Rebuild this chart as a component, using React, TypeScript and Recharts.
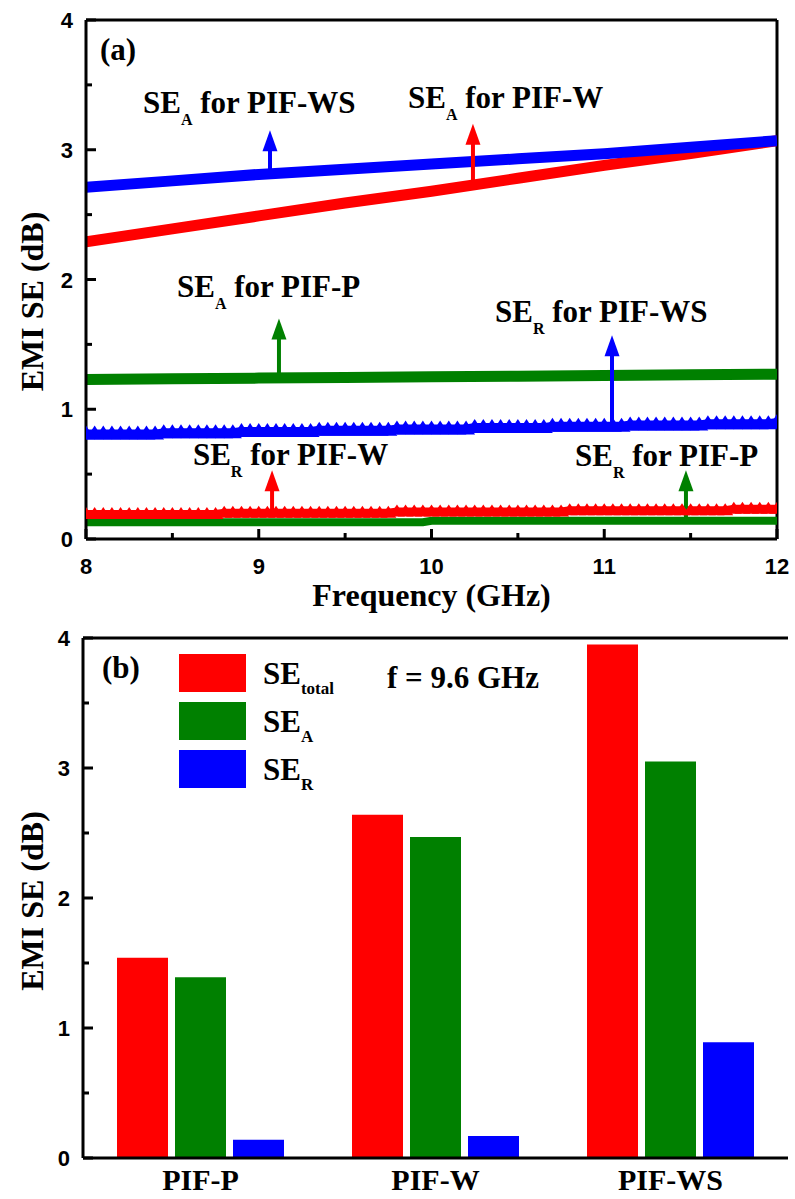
import React from "react";
import { LineChart, Line, BarChart, Bar, XAxis, YAxis, ReferenceLine, ReferenceDot, Legend } from "recharts";

const SERIF = "'Liberation Serif', 'Times New Roman', serif";
const SANS = "'Liberation Sans', Arial, sans-serif";
const RED = "#ff0000";
const GREEN = "#008000";
const BLUE = "#0000ff";

// (a) absorption part, read every 0.5 GHz
const freqA = [8, 8.5, 9, 9.5, 10, 10.5, 11, 11.5, 12];
const seA_P = [1.23, 1.235, 1.24, 1.245, 1.25, 1.255, 1.26, 1.265, 1.27];
const seA_W = [2.29, 2.39, 2.49, 2.59, 2.68, 2.78, 2.88, 2.97, 3.07];
const seA_WS = [2.71, 2.76, 2.81, 2.85, 2.89, 2.93, 2.97, 3.02, 3.07];

// (a) reflection part, dense markers every 0.05 GHz
const freqR = [
  8, 8.05, 8.1, 8.15, 8.2, 8.25, 8.3, 8.35, 8.4, 8.45,
  8.5, 8.55, 8.6, 8.65, 8.7, 8.75, 8.8, 8.85, 8.9, 8.95,
  9, 9.05, 9.1, 9.15, 9.2, 9.25, 9.3, 9.35, 9.4, 9.45,
  9.5, 9.55, 9.6, 9.65, 9.7, 9.75, 9.8, 9.85, 9.9, 9.95,
  10, 10.05, 10.1, 10.15, 10.2, 10.25, 10.3, 10.35, 10.4, 10.45,
  10.5, 10.55, 10.6, 10.65, 10.7, 10.75, 10.8, 10.85, 10.9, 10.95,
  11, 11.05, 11.1, 11.15, 11.2, 11.25, 11.3, 11.35, 11.4, 11.45,
  11.5, 11.55, 11.6, 11.65, 11.7, 11.75, 11.8, 11.85, 11.9, 11.95,
  12,
];
const seR_WS = [
  0.82, 0.82, 0.82, 0.82, 0.82, 0.82, 0.82, 0.82, 0.82, 0.83,
  0.83, 0.83, 0.83, 0.83, 0.83, 0.83, 0.83, 0.83, 0.84, 0.84,
  0.84, 0.84, 0.84, 0.84, 0.84, 0.84, 0.84, 0.85, 0.85, 0.85,
  0.85, 0.85, 0.85, 0.85, 0.85, 0.85, 0.86, 0.86, 0.86, 0.86,
  0.86, 0.86, 0.86, 0.86, 0.86, 0.87, 0.87, 0.87, 0.87, 0.87,
  0.87, 0.87, 0.87, 0.87, 0.88, 0.88, 0.88, 0.88, 0.88, 0.88,
  0.88, 0.88, 0.88, 0.89, 0.89, 0.89, 0.89, 0.89, 0.89, 0.89,
  0.89, 0.89, 0.9, 0.9, 0.9, 0.9, 0.9, 0.9, 0.9, 0.9,
  0.91,
];
const seR_W = [
  0.2, 0.2, 0.2, 0.2, 0.2, 0.2, 0.2, 0.2, 0.2, 0.2,
  0.2, 0.2, 0.2, 0.2, 0.2, 0.2, 0.21, 0.21, 0.21, 0.21,
  0.21, 0.21, 0.21, 0.21, 0.21, 0.21, 0.21, 0.21, 0.21, 0.21,
  0.21, 0.21, 0.21, 0.21, 0.21, 0.21, 0.22, 0.22, 0.22, 0.22,
  0.22, 0.22, 0.22, 0.22, 0.22, 0.22, 0.22, 0.22, 0.22, 0.22,
  0.22, 0.22, 0.22, 0.22, 0.22, 0.22, 0.23, 0.23, 0.23, 0.23,
  0.23, 0.23, 0.23, 0.23, 0.23, 0.23, 0.23, 0.23, 0.23, 0.23,
  0.23, 0.23, 0.23, 0.23, 0.23, 0.24, 0.24, 0.24, 0.24, 0.24,
  0.24,
];
const seR_P = [
  0.13, 0.13, 0.13, 0.13, 0.13, 0.13, 0.13, 0.13, 0.13, 0.13,
  0.13, 0.13, 0.13, 0.13, 0.13, 0.13, 0.13, 0.13, 0.13, 0.13,
  0.13, 0.13, 0.13, 0.13, 0.13, 0.13, 0.13, 0.13, 0.13, 0.13,
  0.13, 0.13, 0.13, 0.13, 0.13, 0.13, 0.13, 0.13, 0.13, 0.13,
  0.14, 0.14, 0.14, 0.14, 0.14, 0.14, 0.14, 0.14, 0.14, 0.14,
  0.14, 0.14, 0.14, 0.14, 0.14, 0.14, 0.14, 0.14, 0.14, 0.14,
  0.14, 0.14, 0.14, 0.14, 0.14, 0.14, 0.14, 0.14, 0.14, 0.14,
  0.14, 0.14, 0.14, 0.14, 0.14, 0.14, 0.14, 0.14, 0.14, 0.14,
  0.14,
];

// (b) values at f = 9.6 GHz
const samples = ["PIF-P", "PIF-W", "PIF-WS"];
const seTotal = [1.54, 2.64, 3.95];
const seAbs = [1.39, 2.47, 3.05];
const seRef = [0.14, 0.17, 0.89];
const legendOrder = ["total", "A", "R"];

const freqTicks = [8, 8.5, 9, 9.5, 10, 10.5, 11, 11.5, 12];
const seTicks = [0, 0.5, 1, 1.5, 2, 2.5, 3, 3.5, 4];

const rows = (xs: number[], vs: number[]) => xs.map((f, i) => ({ f, v: vs[i] }));
const barRows = samples.map((name, i) => ({ name, total: seTotal[i], A: seAbs[i], R: seRef[i] }));

const axisLine = { stroke: "#000", strokeWidth: 3 };

const YTick = (p: any) => {
  const { x, y, payload } = p;
  const major = Number.isInteger(payload.value);
  return (
    <g>
      <line x1={x} x2={x + (major ? 10 : 6)} y1={y} y2={y} stroke="#000" strokeWidth={3} />
      {major && (
        <text x={x - 13} y={y + 8} textAnchor="end" fontFamily={SANS} fontWeight="bold" fontSize={22} fill="#000">
          {payload.value}
        </text>
      )}
    </g>
  );
};

const XTick = (p: any) => {
  const { x, y, payload } = p;
  const major = Number.isInteger(payload.value);
  return (
    <g>
      <line x1={x} x2={x} y1={y} y2={y - (major ? 10 : 6)} stroke="#000" strokeWidth={3} />
      {major && (
        <text x={x} y={y + 35} textAnchor="middle" fontFamily={SANS} fontWeight="bold" fontSize={22} fill="#000">
          {payload.value}
        </text>
      )}
    </g>
  );
};

const SampleTick = (p: any) => (
  <text x={p.x} y={p.y + 32} textAnchor="middle" fontFamily={SERIF} fontWeight="bold" fontSize={30} fill="#000">
    {p.payload.value}
  </text>
);

const yTitle = (shift: number) => (p: any) => {
  const x = 43;
  const y = p.viewBox.y + p.viewBox.height / 2 + shift;
  return (
    <text x={x} y={y} transform={`rotate(-90 ${x} ${y})`} textAnchor="middle" fontFamily={SERIF} fontWeight="bold" fontSize={32} fill="#000">
      EMI SE (dB)
    </text>
  );
};

const triangleDot = (color: string, h: number, w: number) => (p: any) => {
  const { cx, cy, index } = p;
  if (cx == null || cy == null) return <g key={index} />;
  return <polygon key={index} points={`${cx},${cy - h / 2} ${cx - w / 2},${cy + h / 2} ${cx + w / 2},${cy + h / 2}`} fill={color} />;
};

const arrow = (color: string) => (p: any) => {
  const { x1, y1, x2, y2 } = p;
  return (
    <g>
      <line x1={x1} y1={y1} x2={x2} y2={y2 + 18} stroke={color} strokeWidth={4} />
      <polygon points={`${x2},${y2} ${x2 - 7.5},${y2 + 21} ${x2 + 7.5},${y2 + 21}`} fill={color} />
    </g>
  );
};

const note = (sub: string, sample: string) => (p: any) => (
  <text x={p.cx} y={p.cy} fontFamily={SERIF} fontWeight="bold" fontSize={31} fill="#000">
    SE<tspan fontSize={16} dy={12}>{sub}</tspan>
    <tspan dy={-12}>{"\u00a0for " + sample}</tspan>
  </text>
);

const panelTag = (tag: string) => (p: any) => (
  <text x={p.cx} y={p.cy} fontFamily={SERIF} fontWeight="bold" fontSize={31} fill="#000">{tag}</text>
);

function SweepChart() {
  return (
    <LineChart width={795} height={620} margin={{ top: 20, right: 18, bottom: 21, left: 0 }}>
      <XAxis
        type="number"
        dataKey="f"
        domain={[8, 12]}
        ticks={freqTicks}
        interval={0}
        allowDataOverflow
        height={60}
        axisLine={axisLine}
        tickLine={false}
        tickSize={0}
        tickMargin={0}
        tick={<XTick />}
        label={(p: any) => (
          <text x={p.viewBox.x + p.viewBox.width / 2} y={p.viewBox.y + 67} textAnchor="middle" fontFamily={SERIF} fontWeight="bold" fontSize={32} fill="#000">
            Frequency (GHz)
          </text>
        )}
      />
      <YAxis
        type="number"
        domain={[0, 4]}
        ticks={seTicks}
        interval={0}
        allowDataOverflow
        width={86}
        axisLine={axisLine}
        tickLine={false}
        tickSize={0}
        tickMargin={0}
        tick={<YTick />}
        label={yTitle(22)}
      />
      <ReferenceLine y={4} stroke="#000" strokeWidth={3} />
      <ReferenceLine x={12} stroke="#000" strokeWidth={3} />

      <Line data={rows(freqA, seA_P)} dataKey="v" stroke={GREEN} strokeWidth={11} dot={false} activeDot={false} isAnimationActive={false} />
      <Line data={rows(freqA, seA_W)} dataKey="v" stroke={RED} strokeWidth={11} dot={false} activeDot={false} isAnimationActive={false} />
      <Line data={rows(freqA, seA_WS)} dataKey="v" stroke={BLUE} strokeWidth={11} dot={false} activeDot={false} isAnimationActive={false} />
      <Line data={rows(freqR, seR_P)} dataKey="v" stroke={GREEN} strokeWidth={8} dot={false} activeDot={false} isAnimationActive={false} />
      <Line data={rows(freqR, seR_W)} dataKey="v" stroke={RED} strokeWidth={6} dot={triangleDot(RED, 12, 16)} activeDot={false} isAnimationActive={false} />
      <Line data={rows(freqR, seR_WS)} dataKey="v" stroke={BLUE} strokeWidth={6} dot={triangleDot(BLUE, 14, 18)} activeDot={false} isAnimationActive={false} />

      <ReferenceLine segment={[{ x: 9.065, y: 2.82 }, { x: 9.065, y: 3.15 }]} shape={arrow(BLUE)} />
      <ReferenceLine segment={[{ x: 10.24, y: 2.74 }, { x: 10.24, y: 3.2 }]} shape={arrow(RED)} />
      <ReferenceLine segment={[{ x: 9.117, y: 1.25 }, { x: 9.117, y: 1.7 }]} shape={arrow(GREEN)} />
      <ReferenceLine segment={[{ x: 11.045, y: 0.9 }, { x: 11.045, y: 1.57 }]} shape={arrow(BLUE)} />
      <ReferenceLine segment={[{ x: 9.077, y: 0.21 }, { x: 9.077, y: 0.53 }]} shape={arrow(RED)} />
      <ReferenceLine segment={[{ x: 11.473, y: 0.14 }, { x: 11.473, y: 0.53 }]} shape={arrow(GREEN)} />

      <ReferenceDot x={8.081} y={3.69} shape={panelTag("(a)")} />
      <ReferenceDot x={8.33} y={3.283} shape={note("A", "PIF-WS")} />
      <ReferenceDot x={9.864} y={3.322} shape={note("A", "PIF-W")} />
      <ReferenceDot x={8.527} y={1.865} shape={note("A", "PIF-P")} />
      <ReferenceDot x={10.368} y={1.672} shape={note("R", "PIF-WS")} />
      <ReferenceDot x={8.619} y={0.57} shape={note("R", "PIF-W")} />
      <ReferenceDot x={10.831} y={0.563} shape={note("R", "PIF-P")} />
    </LineChart>
  );
}

const renderLegend = (p: any) => {
  const items = legendOrder
    .map((k) => (p.payload || []).find((e: any) => e.value === k))
    .filter(Boolean);
  return (
    <svg width={220} height={140}>
      {items.map((e: any, i: number) => (
        <g key={e.value}>
          <rect x={0} y={i * 48} width={67} height={38} fill={e.color} />
          <text x={84} y={i * 48 + 30} fontFamily={SERIF} fontWeight="bold" fontSize={31} fill="#000">
            SE<tspan fontSize={17} dy={10}>{e.value}</tspan>
          </text>
        </g>
      ))}
    </svg>
  );
};

function BarPanel() {
  return (
    <div style={{ position: "relative" }}>
      <BarChart width={795} height={579} data={barRows} margin={{ top: 18, right: 7, bottom: 0, left: 0 }} barSize={51} barGap={7}>
        <XAxis dataKey="name" height={41} axisLine={axisLine} tickLine={false} tickSize={0} tickMargin={0} tick={<SampleTick />} interval={0} />
        <YAxis
          type="number"
          domain={[0, 4]}
          ticks={seTicks}
          interval={0}
          width={83}
          axisLine={axisLine}
          tickLine={false}
          tickSize={0}
          tickMargin={0}
          tick={<YTick />}
          label={yTitle(3)}
        />
        <YAxis yAxisId="right" orientation="right" domain={[0, 4]} width={0} axisLine={axisLine} tick={false} tickLine={false} />
        <ReferenceLine y={4} stroke="#000" strokeWidth={3} />
        <Legend
          layout="vertical"
          align="center"
          verticalAlign="middle"
          wrapperStyle={{ left: 179, top: 34, width: 220 }}
          content={renderLegend}
        />
        <Bar dataKey="total" name="total" fill={RED} isAnimationActive={false} />
        <Bar dataKey="A" name="A" fill={GREEN} isAnimationActive={false} />
        <Bar dataKey="R" name="R" fill={BLUE} isAnimationActive={false} />
      </BarChart>
      <svg width={795} height={100} style={{ position: "absolute", left: 0, top: 0, pointerEvents: "none" }}>
        <text x={102} y={58} fontFamily={SERIF} fontWeight="bold" fontSize={31} fill="#000">(b)</text>
        <text x={387} y={68} fontFamily={SERIF} fontWeight="bold" fontSize={31} fill="#000">f = 9.6 GHz</text>
      </svg>
    </div>
  );
}

export default function App() {
  return (
    <div style={{ position: "absolute", left: 0, top: 0, width: 795, height: 1199, background: "#fff" }}>
      <div style={{ position: "absolute", left: 0, top: 0 }}>
        <SweepChart />
      </div>
      <div style={{ position: "absolute", left: 0, top: 620 }}>
        <BarPanel />
      </div>
    </div>
  );
}
